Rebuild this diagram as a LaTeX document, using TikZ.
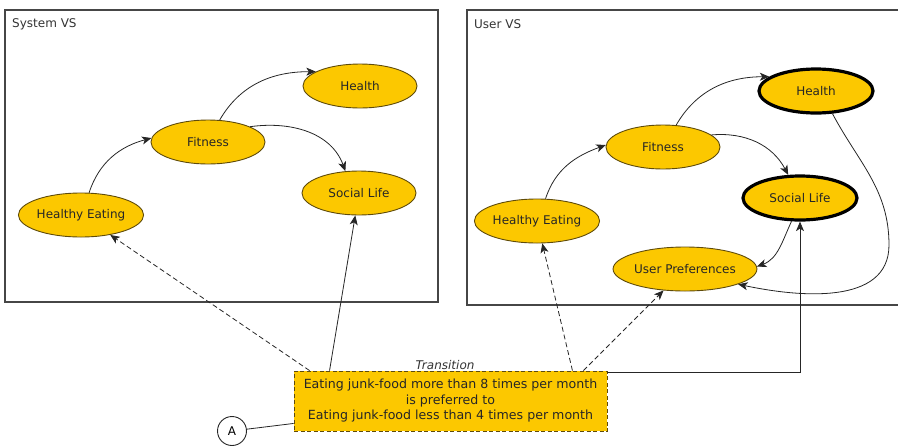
\documentclass[tikz,border=0pt]{standalone}
\usepackage{fontspec}
\setmainfont{DejaVu Sans}
\usetikzlibrary{arrows.meta,shapes.geometric,calc}
\definecolor{gold}{RGB}{252,200,0}
\definecolor{edgebrown}{RGB}{95,75,10}
\definecolor{frame}{RGB}{70,70,70}
\begin{document}
\begin{tikzpicture}[x=1pt,y=1pt,
  goal/.style={ellipse,draw=edgebrown,line width=0.9pt,fill=gold,minimum width=114pt,minimum height=44pt,inner sep=0pt,font=\fontsize{12}{14}\selectfont,text=black!85},
  boldgoal/.style={goal,draw=black,line width=3.2pt,minimum width=114pt,minimum height=44pt},
  vsframe/.style={draw=frame,line width=1.2pt},
  framelabel/.style={anchor=west,inner sep=0pt,font=\fontsize{12}{14}\selectfont,text=black!80},
  link/.style={-{Stealth[length=9.5pt,width=8pt,inset=2.5pt]},line width=0.8pt,draw=black!85},
  dlink/.style={link,dash pattern=on 5pt off 3pt},
  transbox/.style={rectangle,draw=edgebrown,line width=0.9pt,dash pattern=on 4pt off 2.5pt,fill=gold,minimum width=313pt,minimum height=60pt,inner sep=0pt,align=center,font=\fontsize{12.6}{15.5}\selectfont,text=black!85},
  agent/.style={circle,draw=black!85,line width=0.9pt,fill=white,minimum size=29pt,inner sep=0pt,font=\fontsize{12}{14}\selectfont}
]
\useasboundingbox (0,0) rectangle (898,-445);

% frames
\draw[vsframe] (5,-10) rectangle (438,-302);
\draw[vsframe] (899,-10) -- (467,-10) -- (467,-305) -- (899,-305);
\node[framelabel] (syslabel) at (12,-24) {System VS};
\node[framelabel] (userlabel) at (474,-24) {User VS};

% System VS
\node[goal] (lHealth) at (360,-86) {Health};
\node[goal] (lFit) at (208,-142) {Fitness};
\node[goal] (lSoc) at (359,-193) {Social Life};
\node[goal] (lHE) at (81,-215) {Healthy Eating};

\draw[link] (lHE.70) to[out=72,in=195] (lFit.176);
\draw[link] (lFit.62) to[out=60,in=180] (lHealth.162);
\draw[link] (lFit.20) to[out=8,in=110] (lSoc.122);

% User VS
\node[boldgoal,minimum width=114pt] (rHealth) at (816,-91) {Health};
\node[goal] (rFit) at (663,-147) {Fitness};
\node[boldgoal,minimum width=114pt] (rSoc) at (800,-198) {Social Life};
\node[goal] (rHE) at (537,-221) {Healthy Eating};
\node[goal,minimum width=113pt] (rUP) at (685,-269) {User Preferences};

\draw[link] (rHE.69) to[out=72,in=200] (rFit.178);
\draw[link] (rFit.59) to[out=60,in=180] (rHealth.163);
\draw[link] (rFit.14) to[out=5,in=118] (rSoc.117);
\draw[link] (rSoc.250) to[out=245,in=20] (rUP.2);
\coordinate (loopR) at (889,-245);
\draw[link] (rHealth.-54) to[out=-62,in=90] (loopR) to[out=-90,in=-12] (rUP.-16);

% Transition
\node[transbox] (trans) at (450.5,-401) {Eating junk-food more than 8 times per month\\is preferred to\\Eating junk-food less than 4 times per month};
\node[font=\itshape\fontsize{12}{14}\selectfont,text=black!80,anchor=base,inner sep=0pt] (translabel) at (445,-369) {Transition};

\coordinate (t1) at ([xshift=16pt]trans.north west);
\coordinate (t2) at ([xshift=36pt]trans.north west);
\coordinate (t3) at ([xshift=-35pt]trans.north east);
\coordinate (t4) at ([xshift=-24pt]trans.north east);
\coordinate (t5) at ([yshift=-2pt]trans.north east);

\draw[dlink] (t1) -- (lHE);
\draw[link] (t2) -- (lSoc);
\draw[dlink] (t3) -- (rHE);
\draw[dlink] (t4) -- (rUP);
\draw[link] (t5) -| (rSoc);

\node[agent] (A) at (232,-431) {A};
\draw[line width=0.8pt,draw=black!85] (A) -- ([yshift=8pt]trans.south west);
\end{tikzpicture}
\end{document}
